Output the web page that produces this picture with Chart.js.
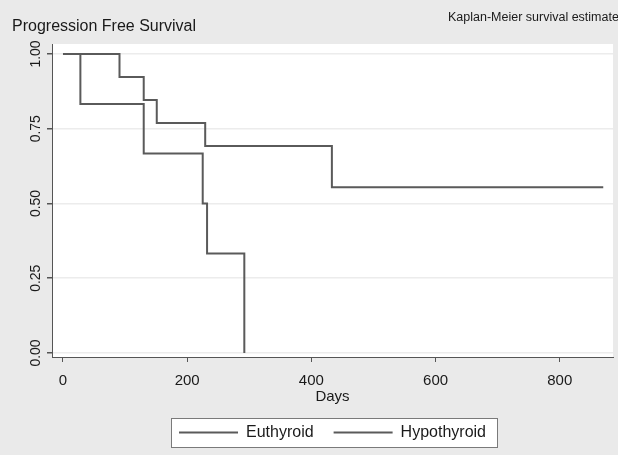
<!DOCTYPE html>
<html>
<head>
<meta charset="utf-8">
<script src="https://cdn.jsdelivr.net/npm/chart.js@4.4.1/dist/chart.umd.min.js"></script>
<style>
  html, body { margin: 0; padding: 0; background: #eaeaea; }
  #wrap { width: 618px; height: 455px; position: relative; }
</style>
</head>
<body>
<div id="wrap"><canvas id="km"></canvas></div>
<script>
// Kaplan-Meier steps
const euthDays = [0, 91, 130, 151, 229, 433, 870];
const euthSurv = [1, 0.923, 0.846, 0.769, 0.692, 0.554, 0.554];
const hypoDays = [0, 28, 130, 225, 232, 292];
const hypoSurv = [1, 0.833, 0.667, 0.5, 0.333, 0];
const seriesNames = ['Euthyroid', 'Hypothyroid'];
const xTicks = [0, 200, 400, 600, 800];
const yTicks = [0, 0.25, 0.5, 0.75, 1];

const FONT = 'Liberation Sans, Arial, Helvetica, sans-serif';
const LINE = '#5a5a5a';

const toPoints = (xs, ys) => xs.map((x, i) => ({ x: x, y: ys[i] }));

const backdrop = {
  id: 'backdrop',
  beforeDraw(chart) {
    const { ctx, chartArea: a } = chart;
    ctx.save();
    ctx.fillStyle = '#eaeaea';
    ctx.fillRect(0, 0, chart.width, chart.height);
    ctx.fillStyle = '#ffffff';
    ctx.fillRect(a.left, a.top, a.right - a.left, a.bottom - a.top);
    // white box round the legend
    const boxes = chart.legend.legendHitBoxes;
    if (boxes && boxes.length) {
      const l = Math.round(Math.min(...boxes.map(b => b.left)) - 8);
      const r = Math.round(Math.max(...boxes.map(b => b.left + b.width)) + 11);
      const t = Math.round(boxes[0].top - 6.5);
      ctx.fillRect(l, t, r - l, 29);
      ctx.strokeStyle = '#7a7a7a';
      ctx.lineWidth = 1;
      ctx.strokeRect(l + 0.5, t + 0.5, r - l, 29);
    }
    ctx.restore();
  },
  afterDraw(chart) {
    const ctx = chart.ctx;
    ctx.save();
    ctx.fillStyle = '#1a1a1a';
    ctx.textBaseline = 'middle';
    ctx.font = '16px ' + FONT;
    ctx.fillText('Progression Free Survival', 12, 27);
    ctx.font = '12.5px ' + FONT;
    ctx.fillText('Kaplan-Meier survival estimates', 448, 18);
    ctx.restore();
  }
};

new Chart(document.getElementById('km').getContext('2d'), {
  type: 'line',
  data: {
    datasets: [
      { label: seriesNames[0], data: toPoints(euthDays, euthSurv) },
      { label: seriesNames[1], data: toPoints(hypoDays, hypoSurv) }
    ].map(d => Object.assign(d, {
      stepped: true,
      borderColor: LINE,
      backgroundColor: LINE,
      borderWidth: 2,
      pointRadius: 0,
      fill: false
    }))
  },
  options: {
    responsive: true,
    maintainAspectRatio: false,
    animation: false,
    layout: { padding: { top: 44, right: 5, left: 0, bottom: 4.5 } },
    scales: {
      x: {
        type: 'linear',
        min: -17.7,
        max: 885.7,
        afterBuildTicks: (s) => { s.ticks = xTicks.map(v => ({ value: v })); },
        afterFit: (s) => { s.height = 47.5; },
        grid: { drawOnChartArea: false, tickLength: 5, tickColor: '#555', lineWidth: 1 },
        border: { display: true, color: '#555', width: 1 },
        ticks: { color: '#1a1a1a', font: { family: FONT, size: 15 }, padding: 10, maxRotation: 0 },
        title: { display: true, text: 'Days', color: '#1a1a1a', font: { family: FONT, size: 15 }, padding: { top: 0, bottom: -1.5 } }
      },
      y: {
        min: -0.0134,
        max: 1.0334,
        afterBuildTicks: (s) => { s.ticks = yTicks.map(v => ({ value: v })); },
        afterFit: (s) => { s.width = 52; },
        grid: { color: '#ececec', lineWidth: 1.5, tickLength: 5, tickColor: '#555' },
        border: { display: true, color: '#555', width: 1 },
        ticks: {
          color: '#1a1a1a',
          font: { family: FONT, size: 14 },
          minRotation: 90,
          maxRotation: 90,
          crossAlign: 'center',
          padding: -3,
          callback: (v) => v.toFixed(2)
        }
      }
    },
    plugins: {
      legend: {
        position: 'bottom',
        fullSize: false,
        labels: {
          usePointStyle: true,
          pointStyle: 'line',
          pointStyleWidth: 59,
          color: '#1a1a1a',
          font: { family: FONT, size: 16 },
          padding: 20
        }
      },
      tooltip: { enabled: false }
    }
  },
  plugins: [backdrop]
});
</script>
</body>
</html>
